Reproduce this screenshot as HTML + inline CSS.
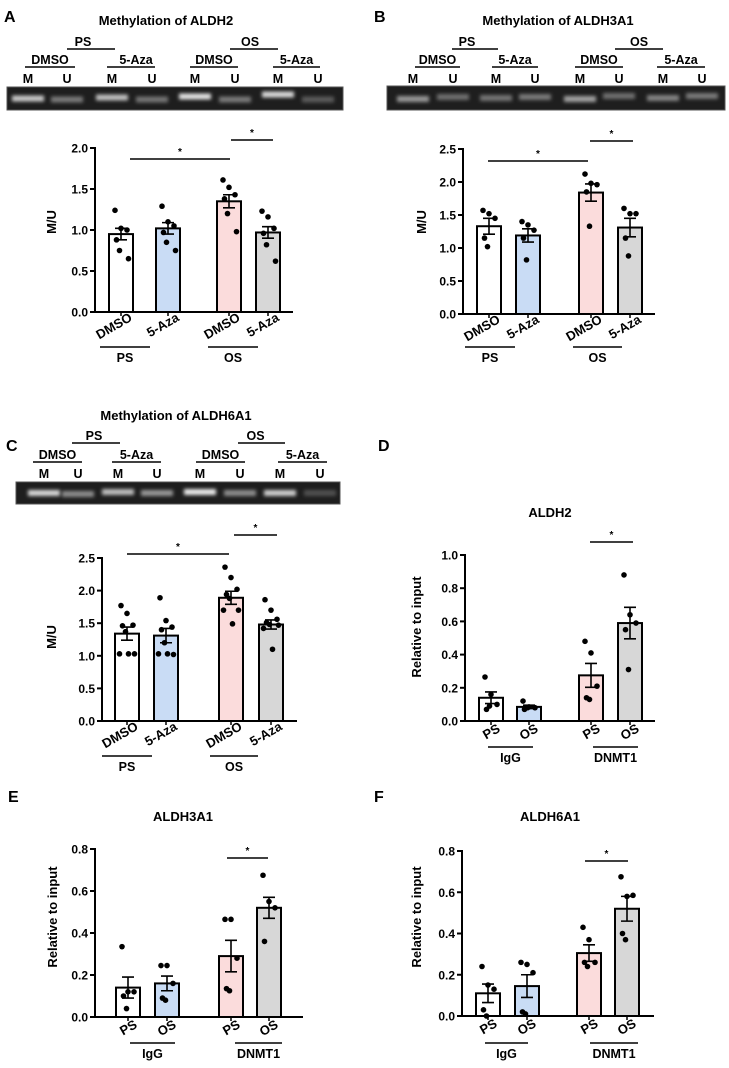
<!DOCTYPE html>
<html><head><meta charset="utf-8"><style>
body{margin:0;background:#fff}
svg{display:block;font-family:"Liberation Sans",Arial,sans-serif;font-weight:bold}
</style></head><body>
<svg id="fig" width="729" height="1068" viewBox="0 0 729 1068" xmlns="http://www.w3.org/2000/svg">
<defs><filter id="blur" x="-50%" y="-100%" width="200%" height="300%"><feGaussianBlur stdDeviation="1.8"/></filter></defs>
</svg>
<script>
// ---- data ----
const aCats=["DMSO","5-Aza","DMSO","5-Aza"];
const aMeans=[0.95,1.02,1.35,0.97];
const aSems=[0.07,0.07,0.08,0.07];
const aPts=[[1.24,1.02,1.0,0.88,0.75,0.65],[1.29,1.10,1.05,0.97,0.85,0.75],[1.61,1.52,1.43,1.38,1.2,0.98],[1.23,1.16,1.02,0.96,0.82,0.62]];
const aTicks=[0,0.5,1.0,1.5,2.0];
const bMeans=[1.33,1.19,1.84,1.31];
const bSems=[0.12,0.10,0.13,0.14];
const bPts=[[1.57,1.52,1.45,1.15,1.02],[1.4,1.35,1.27,1.15,0.82],[2.12,1.98,1.96,1.85,1.33],[1.6,1.52,1.52,1.15,0.88]];
const bTicks=[0,0.5,1.0,1.5,2.0,2.5];
const cMeans=[1.34,1.31,1.89,1.48];
const cSems=[0.10,0.11,0.10,0.07];
const cPts=[[1.77,1.65,1.47,1.46,1.37,1.03,1.03,1.03],[1.89,1.54,1.44,1.4,1.2,1.02,1.03,1.03],[2.36,2.2,2.02,1.94,1.88,1.7,1.7,1.49],[1.86,1.7,1.56,1.51,1.48,1.47,1.42,1.1]];
const cTicks=[0,0.5,1.0,1.5,2.0,2.5];
const ipCats=["PS","OS","PS","OS"];
const dMeans=[0.14,0.085,0.275,0.59];
const dSems=[0.035,0.01,0.072,0.095];
const dPts=[[0.265,0.16,0.10,0.07,0.09],[0.12,0.085,0.08,0.07,0.08],[0.48,0.41,0.21,0.14,0.13],[0.88,0.64,0.59,0.55,0.31]];
const dTicks=[0,0.2,0.4,0.6,0.8,1.0];
const eMeans=[0.14,0.16,0.29,0.52];
const eSems=[0.05,0.035,0.075,0.05];
const ePts=[[0.335,0.12,0.12,0.10,0.04],[0.245,0.245,0.16,0.09,0.08],[0.465,0.465,0.28,0.135,0.125],[0.675,0.55,0.52,0.36]];
const eTicks=[0,0.2,0.4,0.6,0.8];
const fMeans=[0.11,0.145,0.305,0.52];
const fSems=[0.045,0.055,0.04,0.06];
const fPts=[[0.24,0.15,0.13,0.03,0.0],[0.26,0.25,0.21,0.02,0.01],[0.43,0.37,0.26,0.26,0.24],[0.675,0.58,0.585,0.40,0.37]];
const fTicks=[0,0.2,0.4,0.6,0.8];
const barColors=["#ffffff","#c9dcf5","#fbdcdc","#d7d7d7"];

const svg=document.getElementById('fig');
const NS="http://www.w3.org/2000/svg";
function mk(tag,attrs,parent){const e=document.createElementNS(NS,tag);for(const k in attrs)e.setAttribute(k,attrs[k]);(parent||svg).appendChild(e);return e;}
function txt(s,x,y,size,anchor,parent,extra){const t=mk('text',Object.assign({x:x,y:y,'font-size':size,'text-anchor':anchor||'middle'},extra||{}),parent);t.textContent=s;return t;}

function chart(id,c){
  const g=mk('g',{});
  
  
  const ys=v=>c.y0-(v/c.vmax)*(c.y0-c.yTop);
  c.means.forEach((m,i)=>{
    const r=mk('rect',{x:c.cx[i]-12,y:ys(m),width:24,height:c.y0-ys(m),fill:barColors[i],stroke:'#000','stroke-width':2},g);
    
    
  });
  c.pts.forEach((arr,i)=>{
    arr.forEach((v,j)=>{
      const off=((j%3)-1)*6+(j>=3?3:0)*((j%2)?1:-1)*0.5;
      const d=mk('circle',{cx:c.cx[i]+off,cy:ys(v),r:2.8,fill:'#000'},g);
      
      
    });
  });
  c.means.forEach((m,i)=>{
    const e=mk('path',{d:`M${c.cx[i]} ${ys(m-c.sems[i])}V${ys(m+c.sems[i])}M${c.cx[i]-6} ${ys(m+c.sems[i])}H${c.cx[i]+6}M${c.cx[i]-6} ${ys(m-c.sems[i])}H${c.cx[i]+6}`,stroke:'#000','stroke-width':1.6,fill:'none'},g);
    
    
  });
  const ax=mk('path',{d:`M${c.ax} ${c.yTop-1}V${c.y0}H${c.xEnd}`,stroke:'#000','stroke-width':2,fill:'none'},g);
  
  
  c.ticks.forEach(t=>{
    mk('line',{x1:c.ax-5,x2:c.ax,y1:ys(t),y2:ys(t),stroke:'#000','stroke-width':2},g);
    const tl=txt(t.toFixed(1),c.ax-7,ys(t)+4.5,12,'end',g);
    
    
  });
  c.cx.forEach(x=>mk('line',{x1:x,x2:x,y1:c.y0,y2:c.y0+4,stroke:'#000','stroke-width':1.5},g));
  const yl=txt(c.ylab,c.ylx,c.yly,13,'middle',g,{transform:`rotate(-90 ${c.ylx} ${c.yly})`});
  
  
  c.cats.forEach((s,i)=>{
    const x=c.cx[i]+c.lx, y=c.y0+c.ly;
    const l=txt(s,x,y,13,'end',g,{transform:`rotate(-30 ${x} ${y})`});
    
    
  });
  c.groups.forEach(gr=>{
    mk('line',{x1:gr[0],x2:gr[1],y1:c.gy,y2:c.gy,stroke:'#000','stroke-width':1.5},g);
    const l=txt(gr[2],(gr[0]+gr[1])/2,c.gy+15,12.5,'middle',g);
    
    
  });
  c.sig.forEach(s=>{
    mk('line',{x1:s[0],x2:s[1],y1:s[2],y2:s[2],stroke:'#000','stroke-width':1.5},g);
    const st=txt('*',(s[0]+s[1])/2,s[2]-4,10,'middle',g);
    
    
  });
  if(c.title){const t=txt(c.title,c.tx,c.ty,13,'middle',g);}
}

function gel(id,c){
  const g=mk('g',{});
  
  
  const t=txt(c.title,c.tx,c.ty,13,'middle',g);
  
  
  c.lines.forEach(l=>{
    mk('line',{x1:l[0],x2:l[1],y1:l[2],y2:l[2],stroke:'#000','stroke-width':1.5},g);
    const lt=txt(l[3],(l[0]+l[1])/2+(l[4]||0),l[2]-3,12.5,'middle',g);
    
    
  });
  c.lanes.forEach((x,i)=>{const lt=txt(i%2?'U':'M',x,c.my,12.5,'middle',g);});
  const r=mk('rect',{x:c.x,y:c.y,width:c.w,height:c.h,fill:'#1e1e1e',stroke:'#555','stroke-width':1},g);
  
  
  c.lanes.forEach((x,i)=>{
    const b=c.bands[i];
    mk('rect',{x:x-16,y:c.y+c.h/2-3+b[1],width:32,height:6,fill:`rgb(${b[0]},${b[0]},${b[0]})`,filter:'url(#blur)'},g);
  });
}
function plabel(s,x,y){const t=txt(s,x,y,16,'start');}

plabel('A',4,22);plabel('B',374,22);plabel('C',6,451);plabel('D',378,451);plabel('E',8,802);plabel('F',374,802);

gel('a',{title:'Methylation of ALDH2',tx:166,ty:25,x:7,y:87,w:336,h:23,my:83,
  lanes:[28,67,112,152,195,235,278,318],
  bands:[[200,0],[120,1],[190,-1],[115,1],[225,-2],[120,1],[215,-4],[90,1]],
  lines:[[67,115,49,'PS',-8],[25,75,67,'DMSO'],[107,155,67,'5-Aza',5],[230,278,49,'OS',-4],[190,238,67,'DMSO'],[273,320,67,'5-Aza']]});
gel('b',{title:'Methylation of ALDH3A1',tx:558,ty:25,x:387,y:86,w:338,h:24,my:83,
  lanes:[413,453,496,535,580,619,663,702],
  bands:[[150,1],[110,-1],[115,0],[120,-1],[160,1],[110,-2],[130,0],[120,-2]],
  lines:[[452,498,49,'PS',-8],[415,460,67,'DMSO'],[492,538,67,'5-Aza'],[615,663,49,'OS'],[575,623,67,'DMSO'],[657,705,67,'5-Aza']]});
gel('c',{title:'Methylation of ALDH6A1',tx:176,ty:420,x:16,y:482,w:324,h:22,my:478,
  lanes:[44,78,118,157,200,240,280,320],
  bands:[[215,0],[140,1],[190,-1],[150,0],[235,-1],[140,0],[205,0],[80,0]],
  lines:[[72,120,443,'PS',-2],[33,82,462,'DMSO'],[112,161,462,'5-Aza'],[238,285,443,'OS',-6],[196,245,462,'DMSO'],[278,327,462,'5-Aza']]});

chart('a',{ax:95,y0:312,yTop:148,vmax:2.0,xEnd:293,cx:[121,168,229,268],means:aMeans,sems:aSems,pts:aPts,ticks:aTicks,
  ylab:'M/U',ylx:56,yly:222,cats:aCats,lx:12,ly:8,gy:347,groups:[[100,150,'PS'],[208,258,'OS']],
  sig:[[130,230,159],[231,273,140]]});
chart('b',{ax:463,y0:314,yTop:149,vmax:2.5,xEnd:655,cx:[489,528,591,630],means:bMeans,sems:bSems,pts:bPts,ticks:bTicks,
  ylab:'M/U',ylx:426,yly:222,cats:aCats,lx:12,ly:8,gy:347,groups:[[465,515,'PS'],[573,622,'OS']],
  sig:[[488,588,161],[590,633,141]]});
chart('c',{ax:102,y0:721,yTop:558,vmax:2.5,xEnd:297,cx:[127,166,231,271],means:cMeans,sems:cSems,pts:cPts,ticks:cTicks,
  ylab:'M/U',ylx:56,yly:637,cats:aCats,lx:12,ly:8,gy:756,groups:[[102,152,'PS'],[210,258,'OS']],
  sig:[[127,229,554],[234,277,535]]});
chart('d',{ax:465,y0:721,yTop:555,vmax:1.0,xEnd:655,cx:[491,529,591,630],means:dMeans,sems:dSems,pts:dPts,ticks:dTicks,
  ylab:'Relative to input',ylx:421,yly:627,cats:ipCats,lx:10,ly:10,gy:747,groups:[[488,533,'IgG'],[593,638,'DNMT1']],
  sig:[[590,633,542]],title:'ALDH2',tx:550,ty:517});
chart('e',{ax:95,y0:1017,yTop:849,vmax:0.8,xEnd:303,cx:[128,167,231,269],means:eMeans,sems:eSems,pts:ePts,ticks:eTicks,
  ylab:'Relative to input',ylx:57,yly:917,cats:ipCats,lx:10,ly:10,gy:1043,groups:[[130,175,'IgG'],[235,282,'DNMT1']],
  sig:[[227,268,858]],title:'ALDH3A1',tx:183,ty:821});
chart('f',{ax:462,y0:1016,yTop:851,vmax:0.8,xEnd:654,cx:[488,527,589,627],means:fMeans,sems:fSems,pts:fPts,ticks:fTicks,
  ylab:'Relative to input',ylx:421,yly:917,cats:ipCats,lx:10,ly:10,gy:1043,groups:[[485,528,'IgG'],[590,638,'DNMT1']],
  sig:[[585,628,861]],title:'ALDH6A1',tx:550,ty:821});
</script>
</body></html>
